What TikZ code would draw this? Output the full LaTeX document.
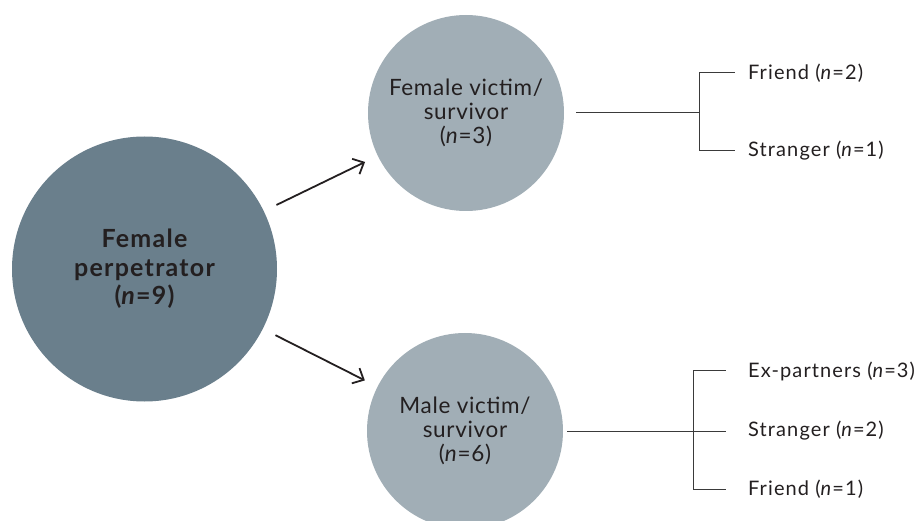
\documentclass[tikz,border=0pt]{standalone}
\usepackage{fontspec}
\setmainfont{Lato}
\newfontfamily\lblfont[LetterSpace=5.5]{Lato}
\newfontfamily\circfont[LetterSpace=3]{Lato}
\newfontfamily\bigfont[LetterSpace=5]{Lato}
\usetikzlibrary{arrows.meta}
\definecolor{dark}{HTML}{6A7F8C}
\definecolor{light}{HTML}{A1AEB6}
\definecolor{ink}{HTML}{231F20}
\definecolor{linec}{HTML}{3A3A3A}
\tikzset{
  x=1pt, y=-1pt,
  bigc/.style={circle, fill=dark, minimum size=265pt, inner sep=0pt, align=center, text=ink,
    font=\bigfont\fontsize{25}{28.5}\selectfont\bfseries},
  smallc/.style={circle, fill=light, minimum size=196pt, inner sep=0pt, align=center, text=ink,
    font=\circfont\fontsize{22.5}{24}\selectfont},
  lbl/.style={anchor=west, inner sep=0pt, text=ink, font=\lblfont\fontsize{20}{24}\selectfont},
  arr/.style={-{Straight Barb[length=9pt,width=17pt]}, line width=1.8pt, draw=ink,
    shorten <=14pt, shorten >=14pt},
  tree/.style={draw=linec, line width=1pt},
}
\begin{document}
\begin{tikzpicture}
\useasboundingbox (0,0) rectangle (924,521);
\clip (0,0) rectangle (924,521);
\node[bigc] (p) at (144.5,269) {Female\\perpetrator\\(\textit{n}=9)};
\node[smallc] (fv) at (466,113) {Female victim/\\survivor\\(\textit{n}=3)};
\node[smallc] (mv) at (465,431) {Male victim/\\survivor\\(\textit{n}=6)};
\draw[arr] (p) -- (fv);
\draw[arr] (p) -- (mv);
% upper tree
\coordinate (j1) at (699,113);
\node[lbl] (f2) at (748,73) {Friend (\textit{n}=2)};
\node[lbl] (s1) at (748,151) {Stranger (\textit{n}=1)};
\draw[tree, shorten <=12pt] (fv) -- (j1);
\draw[tree] (j1) |- ([xshift=-13pt]f2.west);
\draw[tree] (j1) |- ([xshift=-13pt]s1.west);
% lower tree
\coordinate (j2) at (693,431);
\node[lbl] (e3) at (748,371) {Ex-partners (\textit{n}=3)};
\node[lbl] (s2) at (748,431) {Stranger (\textit{n}=2)};
\node[lbl] (f1) at (748,489) {Friend (\textit{n}=1)};
\draw[tree, shorten <=4pt] (mv) -- ([xshift=-22pt]s2.west);
\draw[tree] (j2) |- ([xshift=-22pt]e3.west);
\draw[tree] (j2) |- ([xshift=-22pt]f1.west);
\end{tikzpicture}
\end{document}
